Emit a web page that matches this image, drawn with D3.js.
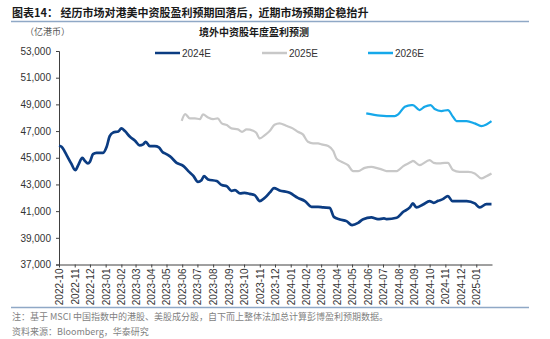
<!DOCTYPE html>
<html><head><meta charset="utf-8">
<script src="https://cdn.jsdelivr.net/npm/d3@7/dist/d3.min.js"></script>
<style>
body{margin:0;background:#fff;}
svg{display:block;}
text{font-family:"Liberation Sans",Arial,sans-serif;}
.cjk{font-family:"Noto Sans CJK SC","Liberation Sans",sans-serif;}
</style></head><body>
<svg id="c" width="550" height="339"></svg>
<script>
const titleText = "图表14：  经历市场对港美中资股盈利预期回落后，近期市场预期企稳抬升";
const chartTitle = "境外中资股年度盈利预测";
const unitLabel = "（亿港币）";
const noteText = "注：基于 MSCI 中国指数中的港股、美股成分股，自下而上整体法加总计算彭博盈利预期数据。";
const sourceText = "资料来源：Bloomberg，华泰研究";
const seriesNames = ["2024E", "2025E", "2026E"];
const yTicks = [37000, 39000, 41000, 43000, 45000, 47000, 49000, 51000, 53000];
const xDomain = ["2022-10-01", "2025-02-01"];

const dates2024 = ["2022-10-01","2022-10-06","2022-10-16","2022-10-25","2022-11-02","2022-11-08","2022-11-16","2022-11-21","2022-11-27","2022-12-01","2022-12-07","2022-12-14","2022-12-27","2023-01-03","2023-01-09","2023-01-16","2023-01-26","2023-02-01","2023-02-08","2023-02-18","2023-02-28","2023-03-09","2023-03-16","2023-03-21","2023-03-29","2023-04-08","2023-04-16","2023-04-24","2023-04-28","2023-05-08","2023-05-21","2023-06-03","2023-06-13","2023-06-23","2023-07-02","2023-07-09","2023-07-14","2023-07-22","2023-08-08","2023-08-18","2023-08-28","2023-09-06","2023-09-13","2023-09-23","2023-10-02","2023-10-12","2023-10-22","2023-11-01","2023-11-11","2023-11-21","2023-11-29","2023-12-10","2023-12-30","2024-01-15","2024-01-29","2024-02-11","2024-02-24","2024-03-05","2024-03-18","2024-03-26","2024-04-07","2024-04-20","2024-05-01","2024-05-13","2024-05-23","2024-06-08","2024-06-21","2024-07-03","2024-07-08","2024-07-28","2024-08-10","2024-08-23","2024-08-29","2024-09-05","2024-09-18","2024-10-01","2024-10-09","2024-10-18","2024-10-27","2024-11-06","2024-11-15","2024-11-26","2024-12-13","2024-12-29","2025-01-08","2025-01-21","2025-01-31"];
const values2024 = [45900,45820,45200,44575,44070,44450,45000,44770,44575,44700,45270,45370,45370,45820,46620,46900,46975,47200,47000,46570,46270,45925,46000,46195,45870,45870,45775,45400,45330,45100,44620,44395,44000,43645,43195,43320,43620,43375,43250,42950,42870,42520,42570,42325,42370,42295,42200,41750,41995,42400,42720,42550,42370,41995,41750,41320,41320,41275,41245,40570,40375,40250,39950,40120,40400,40525,40400,40450,40400,40500,40950,41275,41575,41275,41500,41750,41620,41770,41900,42125,41750,41750,41750,41575,41275,41525,41525];

const dates2025 = ["2023-05-31","2023-06-07","2023-06-16","2023-06-26","2023-07-06","2023-07-12","2023-07-22","2023-08-01","2023-08-10","2023-08-18","2023-08-28","2023-09-06","2023-09-19","2023-09-27","2023-10-06","2023-10-19","2023-10-25","2023-11-01","2023-11-11","2023-11-21","2023-11-30","2023-12-10","2023-12-23","2024-01-05","2024-01-15","2024-01-25","2024-02-04","2024-02-14","2024-02-24","2024-03-02","2024-03-15","2024-03-25","2024-03-31","2024-04-10","2024-04-23","2024-05-03","2024-05-13","2024-05-26","2024-06-08","2024-06-21","2024-07-04","2024-07-08","2024-07-28","2024-08-10","2024-08-26","2024-08-29","2024-09-11","2024-10-01","2024-10-09","2024-10-20","2024-10-31","2024-11-06","2024-11-16","2024-11-29","2024-12-16","2024-12-29","2025-01-11","2025-01-21","2025-01-31"];
const values2025 = [47770,48270,47950,47950,47900,48250,48025,47900,47950,47575,47450,47200,47125,46945,47125,47020,46870,46450,46700,47020,47470,47575,47395,47200,46945,46750,46195,46075,46075,46000,45875,45500,44950,44700,44450,44000,44000,44245,44320,44200,44050,44000,44000,44375,44700,44770,44450,44820,44620,44575,44620,44620,44075,43945,43945,43825,43450,43620,43825];

const dates2026 = ["2024-05-29","2024-06-25","2024-07-08","2024-07-24","2024-07-31","2024-08-13","2024-08-26","2024-08-29","2024-09-11","2024-09-21","2024-10-03","2024-10-11","2024-10-24","2024-11-06","2024-11-16","2024-11-23","2024-12-13","2024-12-29","2025-01-11","2025-01-21","2025-01-31"];
const values2026 = [48325,48150,48125,48125,48250,48820,48950,48950,48575,48820,48950,48650,48500,48575,48075,47750,47750,47575,47375,47500,47750];

const colors = ["#0B3C82", "#C8C8C8", "#16A8EA"];
const widths = [2.7, 2.2, 2.2];

const svg = d3.select("#c");
const parse = d3.timeParse("%Y-%m-%d");
const plot = {left: 59, right: 492, top: 51, bottom: 264.5};

const x = d3.scaleTime().domain(xDomain.map(parse)).range([plot.left, plot.right]);
const y = d3.scaleLinear().domain([37000, 53000]).range([plot.bottom, plot.top]);

// header
svg.append("text").attr("class","cjk").attr("x",12).attr("y",17)
  .attr("font-size",11).attr("font-weight","bold").attr("fill","#1a1a1a").text(titleText);
svg.append("line").attr("x1",11).attr("x2",529).attr("y1",21.5).attr("y2",21.5)
  .attr("stroke","#8FA8C6").attr("stroke-width",1.5);
svg.append("text").attr("class","cjk").attr("x",25).attr("y",34.5)
  .attr("font-size",9).attr("fill","#595959").text(unitLabel);
svg.append("text").attr("class","cjk").attr("x",254).attr("y",35.5).attr("text-anchor","middle")
  .attr("font-size",10).attr("font-weight","bold").attr("fill","#1a1a1a").text(chartTitle);

// legend
const legendX = [155, 262, 368];
seriesNames.forEach((n,i)=>{
  const g = svg.append("g").attr("transform",`translate(${legendX[i]},53)`);
  g.append("line").attr("x1",0).attr("x2",25).attr("stroke",colors[i]).attr("stroke-width",2.5);
  g.append("text").attr("x",27).attr("dy","0.35em").attr("font-size",10).attr("fill","#333").text(n);
});

// axes
const yAxis = d3.axisLeft(y).tickValues(yTicks).tickFormat(d3.format(",")).tickSize(3).tickPadding(5);
const gy = svg.append("g").attr("transform",`translate(${plot.left},0)`).call(yAxis);
gy.select(".domain").attr("stroke","#404040");
gy.selectAll(".tick line").attr("stroke","#404040");
gy.selectAll("text").attr("font-size",10).attr("fill","#333").style("font-family","'Liberation Sans',Arial,sans-serif");

const months = d3.timeMonth.range(parse("2022-10-01"), parse("2025-01-02"));
const xAxis = d3.axisBottom(x).tickValues(months).tickFormat(d3.timeFormat("%Y-%m")).tickSize(3).tickSizeOuter(0);
const gx = svg.append("g").attr("transform",`translate(0,${plot.bottom})`).call(xAxis);
gx.select(".domain").attr("stroke","#404040");
gx.selectAll(".tick line").attr("stroke","#404040");
gx.selectAll("text").attr("font-size",10).attr("fill","#333").style("font-family","'Liberation Sans',Arial,sans-serif")
  .attr("transform","rotate(-90)").attr("text-anchor","end").attr("x",-4).attr("y",0).attr("dy","0.35em");

// lines
const series = [[dates2024, values2024],[dates2025, values2025],[dates2026, values2026]];
const line = d3.line().x(d=>x(d[0])).y(d=>y(d[1])).curve(d3.curveMonotoneX);
series.forEach((s,i)=>{
  const pts = s[0].map((d,j)=>[parse(d), s[1][j]]);
  svg.append("path").datum(pts).attr("d",line).attr("fill","none")
    .attr("stroke",colors[i]).attr("stroke-width",widths[i]).attr("stroke-linejoin","round");
});

// footer
svg.append("line").attr("x1",11).attr("x2",529).attr("y1",307.5).attr("y2",307.5)
  .attr("stroke","#8FA8C6").attr("stroke-width",1.5);
svg.append("text").attr("class","cjk").attr("x",12).attr("y",319.5)
  .attr("font-size",9).attr("fill","#7F7F7F").text(noteText);
svg.append("text").attr("class","cjk").attr("x",12).attr("y",334.5)
  .attr("font-size",9).attr("fill","#7F7F7F").text(sourceText);
</script>
</body></html>
